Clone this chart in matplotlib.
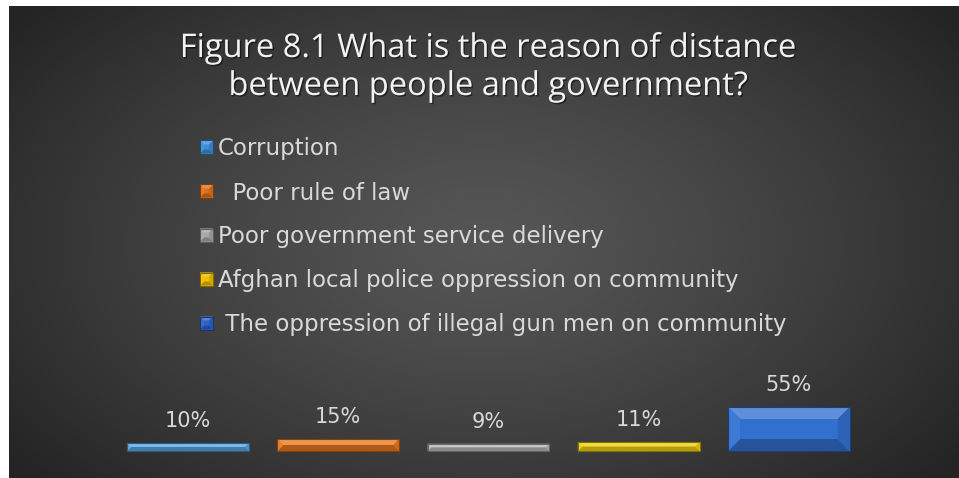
import numpy as np
import matplotlib.pyplot as plt
from matplotlib.patches import Polygon, Rectangle
from matplotlib.colors import to_rgb
import matplotlib.patheffects as pe

# survey answers
categories = [
    "Corruption",
    "  Poor rule of law",
    "Poor government service delivery",
    "Afghan local police oppression on community",
    " The oppression of illegal gun men on community",
]
values = [10, 15, 9, 11, 55]
value_labels = ["10%", "15%", "9%", "11%", "55%"]
bar_colors = ["#55A6E4", "#E8781E", "#B8B8B8", "#F0D010", "#3270D0"]
marker_colors = ["#3C8ED8", "#E0701E", "#A8A8A8", "#F0C000", "#2E62C8"]

title_lines = ["Figure 8.1 What is the reason of distance",
               "between people and government?"]

W, H = 959, 478
fig = plt.figure(figsize=(W / 100, H / 100), dpi=100)
fig.patch.set_facecolor("white")


def fx(x):
    return x / W


def fy(y):
    return 1 - y / H


def shade(color, amount):
    # amount > 0 lightens, < 0 darkens
    c = np.array(to_rgb(color))
    if amount > 0:
        c = c + (1 - c) * amount
    else:
        c = c * (1 + amount)
    return tuple(np.clip(c, 0, 1))


def bevel(x0, y0, x1, y1, color, b_max):
    # x/y in output pixels, y pointing up
    b = min(b_max, (y1 - y0) / 2, (x1 - x0) / 2)
    pieces = [
        ([(x0, y0), (x1, y0), (x1, y1), (x0, y1)], color),
        ([(x0, y1), (x1, y1), (x1 - b, y1 - b), (x0 + b, y1 - b)], shade(color, 0.22)),
        ([(x0, y0), (x1, y0), (x1 - b, y0 + b), (x0 + b, y0 + b)], shade(color, -0.25)),
        ([(x0, y0), (x0, y1), (x0 + b, y1 - b), (x0 + b, y0 + b)], shade(color, 0.06)),
        ([(x1, y0), (x1, y1), (x1 - b, y1 - b), (x1 - b, y0 + b)], shade(color, -0.12)),
    ]
    for pts, c in pieces:
        pts = [(px / W, py / H) for px, py in pts]
        fig.add_artist(Polygon(pts, closed=True, facecolor=c, edgecolor="none",
                               transform=fig.transFigure, zorder=5))
    fig.add_artist(Rectangle((x0 / W, y0 / H), (x1 - x0) / W, (y1 - y0) / H,
                             facecolor="none", edgecolor=shade(color, -0.45),
                             linewidth=0.8, transform=fig.transFigure, zorder=6))


# dark panel with radial gradient
bg = fig.add_axes([fx(9), 0, 1 - fx(9), 1 - 6 / H])
yy, xx = np.mgrid[0:1:300j, 0:1:600j]
r = np.clip(np.sqrt(((xx - 0.5) / 0.62) ** 2 + ((yy - 0.5) / 0.75) ** 2), 0, 1)
grad = 0.335 - 0.19 * r ** 1.3
bg.imshow(np.dstack([grad] * 3), aspect="auto", extent=[0, 1, 0, 1], interpolation="bilinear")
bg.set_axis_off()

# title
for i, line in enumerate(title_lines):
    fig.text(fx(488), fy(57 + i * 38), line, ha="center", va="baseline",
             fontsize=23.5, family="Open Sans", color="#F2F2F2",
             path_effects=[pe.withSimplePatchShadow(offset=(1, -1), shadow_rgbFace="black", alpha=0.5)])

# legend
for i, (label, c) in enumerate(zip(categories, marker_colors)):
    yc = 147 + i * 44
    bevel(200, H - yc - 6.5, 213, H - yc + 6.5, c, 4)
    fig.text(fx(218), fy(yc + 8.5), label, ha="left", va="baseline",
             fontsize=16.5, family="DejaVu Sans", color="#D9D9D9")

# bars
ax = fig.add_axes([fx(113), 27 / H, (864 - 113) / W, 48 / H])
ax.set_xlim(-0.5, len(values) - 0.5)
ax.set_ylim(0, 60)
ax.set_axis_off()
x = np.arange(len(values))
bars = ax.bar(x, values, width=0.81, color="none", edgecolor="none")
for rect, c, lab in zip(bars, bar_colors, value_labels):
    (x0, y0), (x1, y1) = ax.transData.transform(
        [(rect.get_x(), 0), (rect.get_x() + rect.get_width(), rect.get_height())])
    bevel(x0, y0, x1, y1, c, 12)
    ax.annotate(lab, (rect.get_x() + rect.get_width() / 2, rect.get_height()),
                xytext=(0, 11.5), textcoords="offset points", ha="center", va="baseline",
                fontsize=15, family="DejaVu Sans", color="#D9D9D9", annotation_clip=False)

fig.savefig("out.png", dpi=100)
